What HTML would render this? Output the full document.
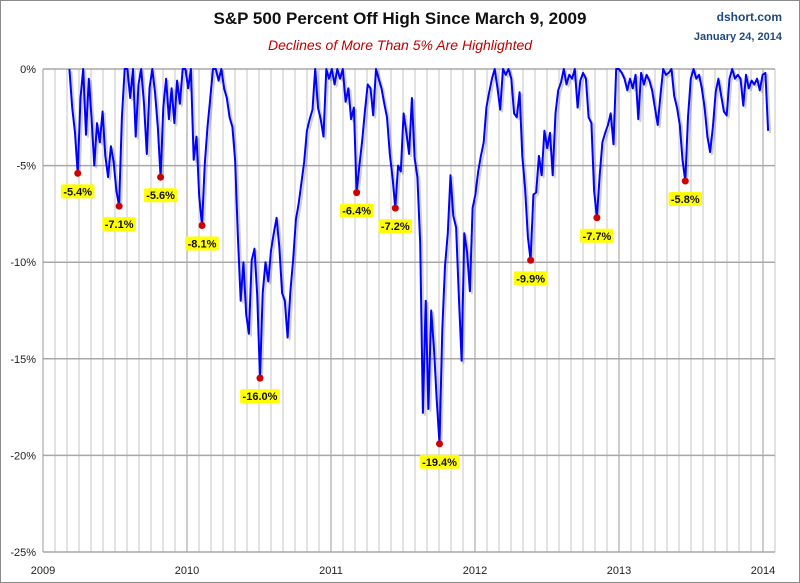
<!DOCTYPE html>
<html><head><meta charset="utf-8"><style>
html,body{margin:0;padding:0;background:#fff}
svg{display:block;font-family:"Liberation Sans",Tahoma,sans-serif}
</style></head><body>
<svg id="chart" width="800" height="583" viewBox="0 0 800 583" xmlns="http://www.w3.org/2000/svg">
<rect x="0.5" y="0.5" width="799" height="582" fill="#fff" stroke="#8a8a8a"/>
<text x="400" y="24" text-anchor="middle" font-size="17" font-weight="bold" fill="#111">S&amp;P 500 Percent Off High Since March 9, 2009</text>
<text x="400" y="50" text-anchor="middle" font-size="14" font-style="italic" fill="#c00000">Declines of More Than 5% Are Highlighted</text>
<text x="782" y="21" text-anchor="end" font-size="12" font-weight="bold" fill="#1f497d">dshort.com</text>
<text x="782" y="40" text-anchor="end" font-size="11" font-weight="bold" fill="#1f497d">January 24, 2014</text>
<g id="grid"></g>
<g id="axes"></g>
<g id="series"></g>
<g id="marks"></g>
</svg>
<script>
const yearTicks = [2009, 2010, 2011, 2012, 2013, 2014];
const yTicks = [0, -5, -10, -15, -20, -25];
const startYear = 2009 + 67/365; // March 9, 2009
const weekStep = 7/365;
const pctOff = [0,-2.0,-3.3,-5.4,-1.5,0,-3.4,-0.5,-2.5,-5.0,
-2.8,-3.8,-2.2,-4.5,-5.6,-4.0,-4.8,-6.3,-7.1,-2.5,
0,0,-1.5,0,-3.5,-0.8,0,-1.8,-4.4,-1.0,
0,-1.2,-3.0,-5.6,-2.0,-0.5,-2.6,-1.0,-2.8,-0.6,
-1.8,0,0,-1.0,0,-4.7,-3.5,-6.6,-8.1,-4.9,
-3.0,-1.5,0,0,-0.6,0,-1.0,-1.5,-2.5,-3.0,
-4.7,-8.7,-12.0,-10.0,-12.7,-13.7,-9.9,-9.3,-11.7,-16.0,
-11.6,-10.0,-11.0,-9.4,-8.5,-7.7,-9.2,-11.6,-12.0,-13.9,
-11.5,-9.9,-7.8,-7.0,-5.9,-4.8,-3.2,-2.6,-2.1,0,
-2.0,-2.6,-3.5,0,-0.5,0,-0.8,0,-0.5,0,
-1.7,-1.0,-2.6,-2.0,-6.4,-5.0,-3.7,-2.2,-0.8,-1.0,
-2.4,0,-0.5,-1.0,-1.8,-2.5,-4.4,-5.6,-7.2,-5.0,
-5.3,-2.3,-3.3,-4.4,-1.5,-4.6,-5.6,-9.0,-17.8,-12.0,
-17.6,-12.5,-14.5,-17.1,-19.4,-13.5,-10.2,-8.5,-5.5,-7.6,
-8.2,-11.7,-15.1,-8.5,-9.5,-11.5,-7.2,-6.5,-5.3,-4.5,
-3.8,-2.0,-1.2,-0.5,0,-1.0,-2.1,0,-0.3,0,
-0.5,-2.3,-2.5,-1.2,-4.5,-6.2,-8.7,-9.9,-6.5,-6.4,
-4.5,-5.5,-3.2,-4.1,-3.3,-5.5,-2.3,-1.1,-0.7,0,
-0.8,-0.3,-0.5,0,-2.0,-0.6,-0.2,-0.5,-2.5,-2.8,
-6.3,-7.7,-5.5,-3.8,-3.3,-2.9,-2.3,-3.9,0,0,
-0.2,-0.5,-1.1,-0.5,-1.0,-0.3,-2.6,-0.2,-0.8,-0.3,
-0.6,-1.1,-2.0,-2.9,-1.4,0,-0.3,-0.2,0,-1.4,
-2.0,-2.9,-4.7,-5.8,-2.5,-0.5,0,-0.5,-0.3,-1.0,
-2.0,-3.5,-4.3,-3.0,-1.2,-0.5,-1.4,-2.2,-2.4,-0.5,
0,-0.5,-0.3,-0.5,-1.9,-0.3,-1.0,-0.6,-0.8,-0.5,
-1.1,-0.3,-0.2,-3.2];
const declineIdx = [3,18,33,48,69,104,118,134,167,191,223];

const NS = 'http://www.w3.org/2000/svg';
const X0 = 43, PXY = 144, Y0 = 69, PXP = 19.32, XR = 775;
function xOf(year){ return X0 + (year - 2009) * PXY; }
function yOf(p){ return Y0 - p * PXP; }
function mk(tag, attrs, parent){ const e = document.createElementNS(NS, tag); for (const k in attrs) e.setAttribute(k, attrs[k]); parent.appendChild(e); return e; }

const grid = document.getElementById('grid');
const axes = document.getElementById('axes');
for (let m = 1; m <= 61; m++) {
  const yr = 2009 + m/12;
  const x = xOf(yr);
  if (x > XR + 0.5) break;
  const isYear = m % 12 === 0;
  const l = mk('line', {x1:x, x2:x, y1:yOf(0), y2:yOf(-25), stroke: isYear ? '#9a9a9a' : '#c4c4c4', 'stroke-width': 1}, grid);
  
  
}
yTicks.forEach(t => {
  const y = yOf(t);
  const l = mk('line', {x1:X0, x2:XR, y1:y, y2:y, stroke:'#a8a8a8', 'stroke-width':1.5}, grid);
  
  
  const tx = mk('text', {x:36, y:y+4, 'text-anchor':'end', 'font-size':11, fill:'#222'}, axes);
  tx.textContent = t + '%';
  
  
});
const yAxis = mk('line', {x1:X0, x2:X0, y1:yOf(0), y2:yOf(-25), stroke:'#9a9a9a', 'stroke-width':1}, axes);


yearTicks.forEach(yr => {
  const tx = mk('text', {x:xOf(yr), y:574, 'text-anchor':'middle', 'font-size':11, fill:'#222'}, axes);
  tx.textContent = yr;
  
  
});

const ser = document.getElementById('series');
const pts = pctOff.map((v, i) => xOf(startYear + i*weekStep).toFixed(1) + ',' + yOf(v).toFixed(1)).join(' ');
const sh = mk('polyline', {points: pts, fill:'none', stroke:'rgba(0,0,0,0.18)', 'stroke-width':2, transform:'translate(2,2)', 'stroke-linejoin':'round'}, ser);


const pl = mk('polyline', {points: pts, fill:'none', stroke:'#0000ff', 'stroke-width':2, 'stroke-linejoin':'round'}, ser);



const marks = document.getElementById('marks');
declineIdx.forEach(i => {
  const v = pctOff[i];
  const x = xOf(startYear + i*weekStep), y = yOf(v);
  const c = mk('circle', {cx:x, cy:y, r:3.5, fill:'#d00000'}, marks);
  
  
  const label = v.toFixed(1) + '%';
  const w = label.length * 6.3 + 2;
  const r = mk('rect', {x:x - w/2, y:y + 11, width:w, height:14, fill:'#ffff00', rx:2}, marks);
  
  
  const t = mk('text', {x:x, y:y + 22, 'text-anchor':'middle', 'font-size':11, 'font-weight':'bold', fill:'#111'}, marks);
  t.textContent = label;
  
  
});
</script>
</body></html>
